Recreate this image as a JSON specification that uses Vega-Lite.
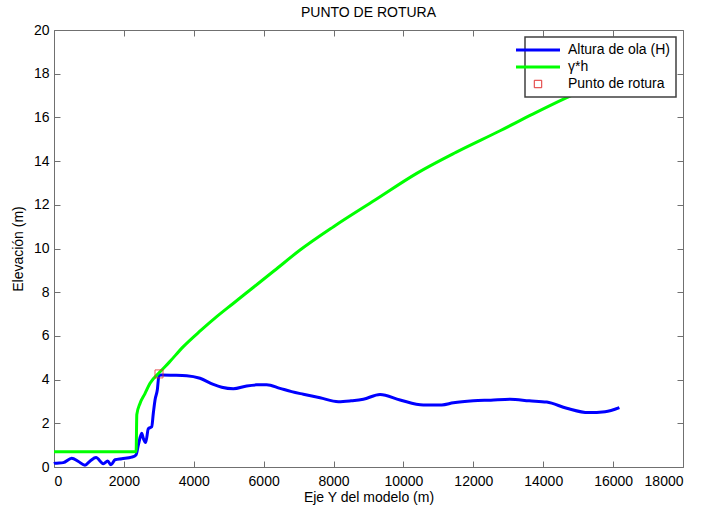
{
  "$schema": "https://vega.github.io/schema/vega-lite/v6.json",
  "width": 629,
  "height": 437,
  "autosize": {"type": "none"},
  "padding": {"left": 54, "top": 30, "right": 22, "bottom": 41},
  "title": {"text": "PUNTO DE ROTURA", "fontSize": 14, "fontWeight": "normal", "anchor": "middle", "offset": 3, "color": "black"},
  "config": {
    "font": "Liberation Sans",
    "view": {"stroke": "#707070", "strokeWidth": 1},
    "axis": {"grid": false, "domain": false, "tickSize": -6, "tickColor": "#707070", "labelColor": "black", "labelFontSize": 14, "titleFontSize": 14, "titleFontWeight": "normal", "titleColor": "black"},
    "legend": {"strokeColor": "#404040", "strokeWidth": 1, "fillColor": "white", "cornerRadius": 0}
  },
  "datasets": {
    "lines": [
      {"x": 0, "y": 0.15, "serie": "Altura de ola (H)"},
      {"x": 29, "y": 0.17, "serie": "Altura de ola (H)"},
      {"x": 266, "y": 0.2, "serie": "Altura de ola (H)"},
      {"x": 507, "y": 0.4, "serie": "Altura de ola (H)"},
      {"x": 700, "y": 0.25, "serie": "Altura de ola (H)"},
      {"x": 887, "y": 0.08, "serie": "Altura de ola (H)"},
      {"x": 1050, "y": 0.3, "serie": "Altura de ola (H)"},
      {"x": 1202, "y": 0.43, "serie": "Altura de ola (H)"},
      {"x": 1411, "y": 0.15, "serie": "Altura de ola (H)"},
      {"x": 1537, "y": 0.27, "serie": "Altura de ola (H)"},
      {"x": 1631, "y": 0.1, "serie": "Altura de ola (H)"},
      {"x": 1746, "y": 0.33, "serie": "Altura de ola (H)"},
      {"x": 1938, "y": 0.38, "serie": "Altura de ola (H)"},
      {"x": 2224, "y": 0.45, "serie": "Altura de ola (H)"},
      {"x": 2347, "y": 0.55, "serie": "Altura de ola (H)"},
      {"x": 2413, "y": 1.0, "serie": "Altura de ola (H)"},
      {"x": 2510, "y": 1.54, "serie": "Altura de ola (H)"},
      {"x": 2556, "y": 1.31, "serie": "Altura de ola (H)"},
      {"x": 2624, "y": 1.12, "serie": "Altura de ola (H)"},
      {"x": 2699, "y": 1.75, "serie": "Altura de ola (H)"},
      {"x": 2796, "y": 1.84, "serie": "Altura de ola (H)"},
      {"x": 2842, "y": 2.46, "serie": "Altura de ola (H)"},
      {"x": 2891, "y": 3.07, "serie": "Altura de ola (H)"},
      {"x": 2956, "y": 3.52, "serie": "Altura de ola (H)"},
      {"x": 3005, "y": 4.2, "serie": "Altura de ola (H)"},
      {"x": 3082, "y": 4.21, "serie": "Altura de ola (H)"},
      {"x": 3400, "y": 4.2, "serie": "Altura de ola (H)"},
      {"x": 3797, "y": 4.18, "serie": "Altura de ola (H)"},
      {"x": 4178, "y": 4.06, "serie": "Altura de ola (H)"},
      {"x": 4559, "y": 3.78, "serie": "Altura de ola (H)"},
      {"x": 4800, "y": 3.65, "serie": "Altura de ola (H)"},
      {"x": 5131, "y": 3.58, "serie": "Altura de ola (H)"},
      {"x": 5515, "y": 3.71, "serie": "Altura de ola (H)"},
      {"x": 5800, "y": 3.76, "serie": "Altura de ola (H)"},
      {"x": 6087, "y": 3.77, "serie": "Altura de ola (H)"},
      {"x": 6468, "y": 3.6, "serie": "Altura de ola (H)"},
      {"x": 6800, "y": 3.45, "serie": "Altura de ola (H)"},
      {"x": 7135, "y": 3.33, "serie": "Altura de ola (H)"},
      {"x": 7613, "y": 3.17, "serie": "Altura de ola (H)"},
      {"x": 8137, "y": 2.99, "serie": "Altura de ola (H)"},
      {"x": 8500, "y": 3.03, "serie": "Altura de ola (H)"},
      {"x": 8852, "y": 3.1, "serie": "Altura de ola (H)"},
      {"x": 9330, "y": 3.32, "serie": "Altura de ola (H)"},
      {"x": 9903, "y": 3.07, "serie": "Altura de ola (H)"},
      {"x": 10570, "y": 2.84, "serie": "Altura de ola (H)"},
      {"x": 11096, "y": 2.84, "serie": "Altura de ola (H)"},
      {"x": 11429, "y": 2.94, "serie": "Altura de ola (H)"},
      {"x": 12000, "y": 3.03, "serie": "Altura de ola (H)"},
      {"x": 12500, "y": 3.06, "serie": "Altura de ola (H)"},
      {"x": 13051, "y": 3.1, "serie": "Altura de ola (H)"},
      {"x": 13600, "y": 3.03, "serie": "Altura de ola (H)"},
      {"x": 14101, "y": 2.97, "serie": "Altura de ola (H)"},
      {"x": 14674, "y": 2.69, "serie": "Altura de ola (H)"},
      {"x": 15292, "y": 2.49, "serie": "Altura de ola (H)"},
      {"x": 15770, "y": 2.53, "serie": "Altura de ola (H)"},
      {"x": 16180, "y": 2.72, "serie": "Altura de ola (H)"},
      {"x": 0, "y": 0.7, "serie": "γ*h"},
      {"x": 2350, "y": 0.7, "serie": "γ*h"},
      {"x": 2370, "y": 2.4, "serie": "γ*h"},
      {"x": 2461, "y": 2.91, "serie": "γ*h"},
      {"x": 2600, "y": 3.35, "serie": "γ*h"},
      {"x": 2748, "y": 3.83, "serie": "γ*h"},
      {"x": 3014, "y": 4.32, "serie": "γ*h"},
      {"x": 3300, "y": 4.8, "serie": "γ*h"},
      {"x": 3701, "y": 5.51, "serie": "γ*h"},
      {"x": 4200, "y": 6.25, "serie": "γ*h"},
      {"x": 4656, "y": 6.88, "serie": "γ*h"},
      {"x": 5100, "y": 7.45, "serie": "γ*h"},
      {"x": 5610, "y": 8.1, "serie": "γ*h"},
      {"x": 6300, "y": 8.98, "serie": "γ*h"},
      {"x": 7041, "y": 9.93, "serie": "γ*h"},
      {"x": 8000, "y": 11.0, "serie": "γ*h"},
      {"x": 9187, "y": 12.22, "serie": "γ*h"},
      {"x": 10380, "y": 13.44, "serie": "γ*h"},
      {"x": 11500, "y": 14.4, "serie": "γ*h"},
      {"x": 12765, "y": 15.39, "serie": "γ*h"},
      {"x": 13700, "y": 16.15, "serie": "γ*h"},
      {"x": 14625, "y": 16.87, "serie": "γ*h"},
      {"x": 15500, "y": 17.5, "serie": "γ*h"},
      {"x": 16200, "y": 18.0, "serie": "γ*h"}
    ],
    "rotura": [
      {"x": 3005, "y": 4.26, "serie": "Punto de rotura"}
    ]
  },
  "layer": [
    {
      "data": {"name": "lines"},
      "mark": {"type": "line", "strokeWidth": 3, "interpolate": "monotone"},
      "encoding": {
        "x": {"field": "x", "type": "quantitative", "scale": {"domain": [0, 18000]},
              "axis": {"orient": "bottom", "values": [0, 2000, 4000, 6000, 8000, 10000, 12000, 14000, 16000, 18000], "format": "d", "labelPadding": 13, "title": "Eje Y del modelo (m)", "titlePadding": 2}},
        "y": {"field": "y", "type": "quantitative", "scale": {"domain": [0, 20]},
              "axis": {"orient": "left", "values": [0, 2, 4, 6, 8, 10, 12, 14, 16, 18, 20], "labelPadding": 11, "title": "Elevación (m)", "titlePadding": 8}},
        "color": {"field": "serie", "type": "nominal",
                  "scale": {"domain": ["Altura de ola (H)", "γ*h", "Punto de rotura"], "range": ["#0000ff", "#00ff00", "#e03030"]},
                  "legend": {"title": null, "orient": "top-right", "offset": 7, "fillColor": "white", "strokeColor": "#404040", "padding": 6, "labelFontSize": 14, "labelColor": "black", "labelOffset": 23, "symbolSize": 1936, "symbolStrokeWidth": 3, "rowPadding": 3,
                    "encode": {
                      "legend": {"update": {"stroke": {"value": "#404040"}, "strokeWidth": {"value": 1.5}, "strokeOpacity": {"value": 1}, "fill": {"value": "white"}}},
                      "symbols": {"update": {
                      "shape": {"signal": "datum.value === 'Punto de rotura' ? 'square' : 'stroke'"},
                      "size": {"signal": "datum.value === 'Punto de rotura' ? 55 : 1936"},
                      "strokeWidth": {"signal": "datum.value === 'Punto de rotura' ? 1 : 3"},
                      "fill": {"value": "transparent"}}}}}}
      }
    },
    {
      "data": {"name": "rotura"},
      "mark": {"type": "point", "shape": "square", "filled": false, "size": 64, "strokeWidth": 1, "opacity": 0.8},
      "encoding": {
        "x": {"field": "x", "type": "quantitative", "axis": {"orient": "top", "values": [0, 2000, 4000, 6000, 8000, 10000, 12000, 14000, 16000, 18000], "labels": false, "title": null}},
        "y": {"field": "y", "type": "quantitative", "axis": {"orient": "right", "values": [0, 2, 4, 6, 8, 10, 12, 14, 16, 18, 20], "labels": false, "title": null}},
        "color": {"field": "serie", "type": "nominal"}
      }
    }
  ],
  "resolve": {"axis": {"x": "independent", "y": "independent"}}
}
